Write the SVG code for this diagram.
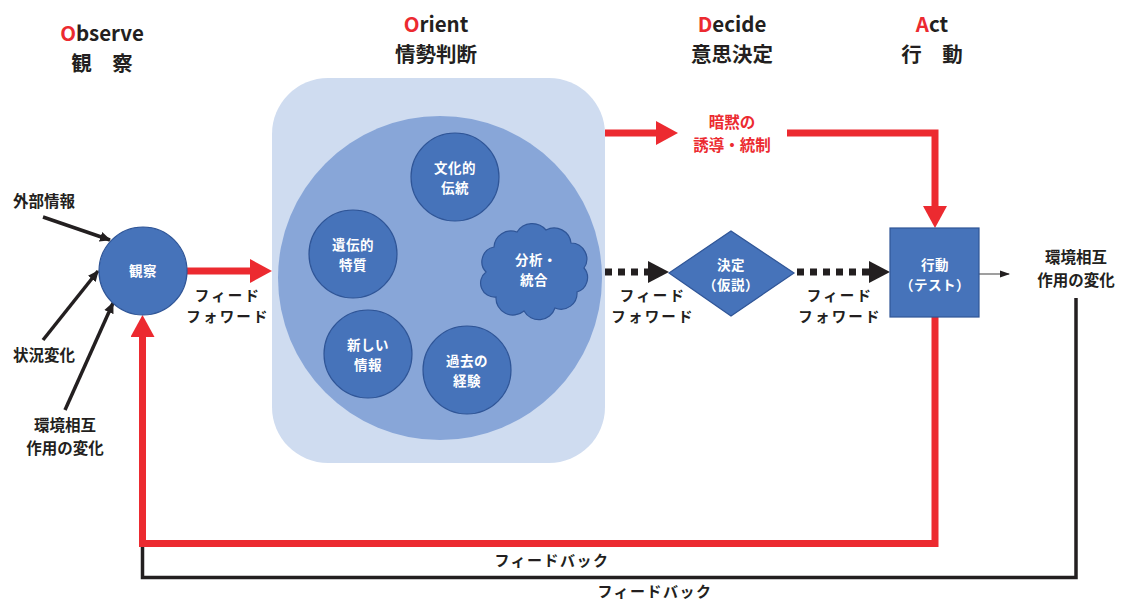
<svg xmlns="http://www.w3.org/2000/svg" width="1123" height="599" viewBox="0 0 1123 599">
  <style>
    text { font-family: "Noto Sans CJK JP", "Noto Sans", sans-serif; font-weight: 700; }
    .hdr { font-size: 20.5px; fill: #231f20; text-anchor: middle; }
    .ini { fill: #ec2a30; }
    .lbl { font-size: 15.5px; fill: #231f20; text-anchor: middle; }
    .ff { font-size: 14.5px; fill: #231f20; text-anchor: middle; letter-spacing: 2.2px; }
    .fb { font-size: 15px; fill: #231f20; text-anchor: middle; letter-spacing: 1.5px; }
    .red { font-size: 15.5px; fill: #ec2a30; text-anchor: middle; }
    .in { font-size: 13.5px; fill: #ffffff; text-anchor: middle; letter-spacing: 0.5px; }
    .node { fill: #4673ba; stroke: #2f5597; stroke-width: 1.2; }
    .redln { fill: none; stroke: #ec2a30; stroke-width: 7; }
    .blkln { fill: none; stroke: #231f20; stroke-width: 3.5; }
    .dots { fill: none; stroke: #231f20; stroke-width: 7; stroke-dasharray: 7 6; }
  </style>
  <defs>
    <marker id="headRed" markerUnits="userSpaceOnUse" markerWidth="22" markerHeight="24" refX="0" refY="12" orient="auto">
      <path d="M0,0 L22,12 L0,24 z" fill="#ec2a30"/>
    </marker>
    <marker id="headBlk" markerUnits="userSpaceOnUse" markerWidth="21" markerHeight="22" refX="0" refY="11" orient="auto">
      <path d="M0,0 L21,11 L0,22 z" fill="#231f20"/>
    </marker>
    <marker id="headSmall" markerUnits="userSpaceOnUse" markerWidth="12" markerHeight="12" refX="10" refY="6" orient="auto">
      <path d="M0,1 L11,6 L0,11 z" fill="#231f20"/>
    </marker>
    <marker id="headThin" markerUnits="userSpaceOnUse" markerWidth="10" markerHeight="8" refX="9" refY="4" orient="auto">
      <path d="M0,0.5 L10,4 L0,7.5 z" fill="#231f20"/>
    </marker>
  </defs>

  <!-- phase headings -->
  <g id="headings">
    <text class="hdr" x="102" y="41"><tspan class="ini">O</tspan>bserve<tspan x="102" y="71">観　察</tspan></text>
    <text class="hdr" x="436" y="32"><tspan class="ini">O</tspan>rient<tspan x="436" y="62">情勢判断</tspan></text>
    <text class="hdr" x="732" y="32"><tspan class="ini">D</tspan>ecide<tspan x="732" y="62">意思決定</tspan></text>
    <text class="hdr" x="932" y="32"><tspan class="ini">A</tspan>ct<tspan x="932" y="62">行　動</tspan></text>
  </g>

  <!-- orientation panel -->
  <g id="orient">
    <rect x="272" y="78" width="333" height="385" rx="56" ry="56" fill="#cfdcf0"/>
    <circle cx="440" cy="278" r="162" fill="#88a6d8"/>
  </g>

  <!-- connectors -->
  <g id="connectors">
    <!-- inputs to observation -->
    <path class="blkln" d="M43,217 L110,240" marker-end="url(#headSmall)"/>
    <path class="blkln" d="M43,340 L98,271" marker-end="url(#headSmall)"/>
    <path class="blkln" d="M65,410 L113,303" marker-end="url(#headSmall)"/>
    <!-- outer feedback (black) -->
    <path class="blkln" d="M1076,298 V577.5 H142.5 V545"/>
    <!-- feed forward from observation -->
    <path class="redln" d="M187,271 H250" marker-end="url(#headRed)"/>
    <!-- implicit guidance -->
    <path class="redln" d="M605,133 H656" marker-end="url(#headRed)"/>
    <path class="redln" d="M787,133 H935 V206" marker-end="url(#headRed)"/>
    <!-- feedback (red) -->
    <path class="redln" d="M935,317 V543.5 H142.5 V337" marker-end="url(#headRed)"/>
    <!-- dotted feed forward -->
    <path class="dots" d="M605,272 H648" marker-end="url(#headBlk)"/>
    <path class="dots" d="M797,272 H869" marker-end="url(#headBlk)"/>
    <!-- action output -->
    <path d="M979,274 H1009" fill="none" stroke="#7f7f7f" stroke-width="1.5" marker-end="url(#headThin)"/>
  </g>

  <!-- edge labels -->
  <g id="edge-labels">
    <text class="ff" x="228" y="301">フィード<tspan x="228" y="322">フォワード</tspan></text>
    <text class="red" x="732" y="128">暗黙の<tspan x="732" y="150.5">誘導・統制</tspan></text>
    <text class="ff" x="653" y="301">フィード<tspan x="653" y="322">フォワード</tspan></text>
    <text class="ff" x="840" y="301">フィード<tspan x="840" y="322">フォワード</tspan></text>
    <text class="fb" x="552" y="566">フィードバック</text>
    <text class="fb" x="655" y="597">フィードバック</text>
  </g>

  <!-- input labels -->
  <g id="inputs">
    <text class="lbl" x="44" y="207">外部情報</text>
    <text class="lbl" x="44" y="361">状況変化</text>
    <text class="lbl" x="65" y="431">環境相互<tspan x="65" y="453.5">作用の変化</tspan></text>
  </g>

  <g id="observe">
    <circle class="node" cx="143" cy="271" r="44"/>
    <text class="in" x="143" y="276">観察</text>
  </g>

  <g id="culture">
    <circle class="node" cx="455" cy="177" r="44"/>
    <text class="in" x="455" y="173">文化的<tspan x="455" y="192.5">伝統</tspan></text>
  </g>

  <g id="heritage">
    <circle class="node" cx="353" cy="254" r="44"/>
    <text class="in" x="353" y="250">遺伝的<tspan x="353" y="269.5">特質</tspan></text>
  </g>

  <g id="new-info">
    <circle class="node" cx="368" cy="354" r="44"/>
    <text class="in" x="368" y="350">新しい<tspan x="368" y="369.5">情報</tspan></text>
  </g>

  <g id="experience">
    <circle class="node" cx="467" cy="370" r="44"/>
    <text class="in" x="467" y="366">過去の<tspan x="467" y="385.5">経験</tspan></text>
  </g>

  <g id="analysis">
    <path class="node" d="M486,272
      A15 15 0 0 1 494,247
      A17 17 0 0 1 517,232
      A18 18 0 0 1 546,230
      A17 17 0 0 1 571,243
      A16 16 0 0 1 584,268
      A15 15 0 0 1 577,292
      A16 16 0 0 1 555,308
      A17 17 0 0 1 524,311
      A17 17 0 0 1 496,297
      A14 14 0 0 1 486,272 z"/>
    <text class="in" x="536" y="265">分析・<tspan x="534" y="284.5">統合</tspan></text>
  </g>

  <g id="decide">
    <path class="node" d="M669,273 L731,231 L794,273 L731,316 z"/>
    <text class="in" x="731" y="270">決定<tspan x="731" y="289.5">（仮説）</tspan></text>
  </g>

  <g id="act">
    <rect class="node" x="890" y="228" width="89" height="89"/>
    <text class="in" x="935" y="270">行動<tspan x="935" y="289.5">（テスト）</tspan></text>
  </g>

  <g id="environment">
    <text class="lbl" x="1076" y="263">環境相互<tspan x="1076" y="285.5">作用の変化</tspan></text>
  </g>
</svg>
